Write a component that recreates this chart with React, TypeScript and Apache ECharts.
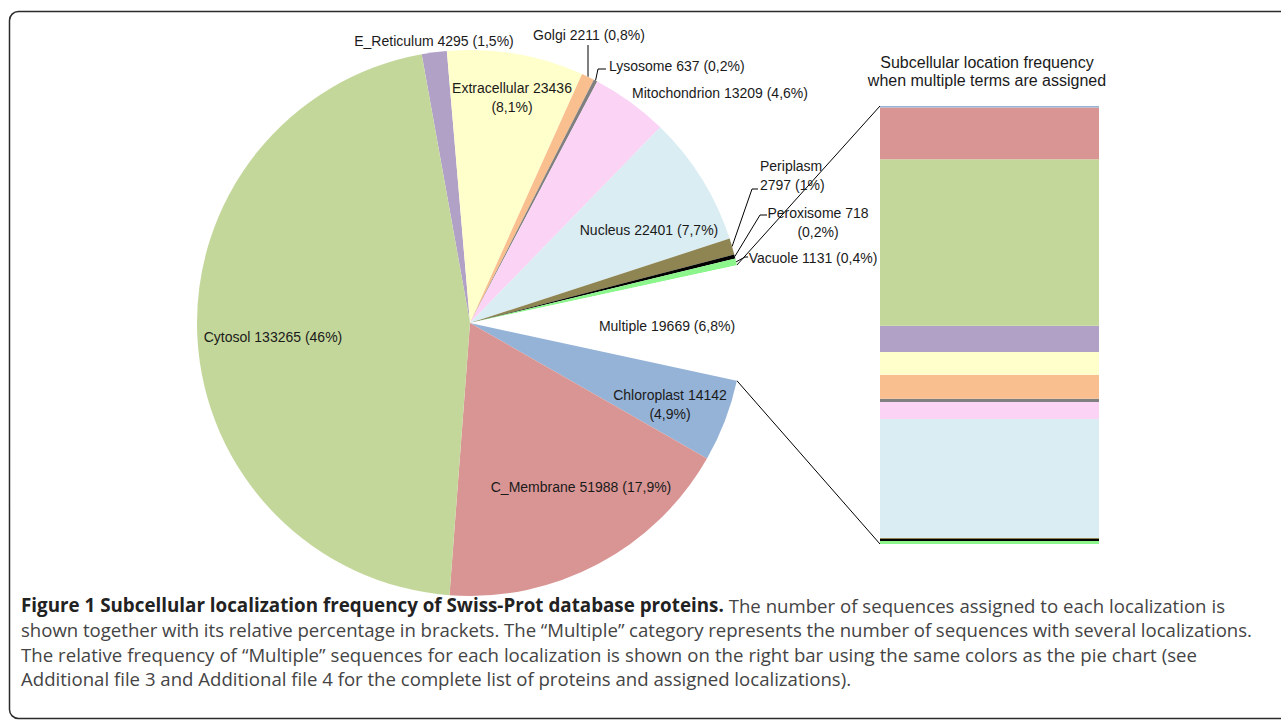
import React, { useEffect, useRef } from "react";
import * as echarts from "echarts";

// ---------- data ----------
const PIE_NAMES = [
  "E_Reticulum", "Extracellular", "Golgi", "Lysosome", "Mitochondrion", "Nucleus",
  "Periplasm", "Peroxisome", "Vacuole", "Multiple", "Chloroplast", "C_Membrane", "Cytosol",
];
const PIE_VALUES = [4295, 23436, 2211, 637, 13209, 22401, 2797, 718, 1131, 19669, 14142, 51988, 133265];

// relative frequency (%) of "Multiple" per localization, bottom to top of the bar
const BAR_NAMES = [
  "Vacuole", "Peroxisome", "Periplasm", "Nucleus", "Mitochondrion", "Lysosome", "Golgi",
  "Extracellular", "E_Reticulum", "Cytosol", "C_Membrane", "Chloroplast",
];
const BAR_VALUES = [0.7, 0.45, 0.25, 27.2, 3.9, 0.7, 5.5, 5.25, 5.95, 38.1, 11.85, 0.35];

const BAR_TITLE = ["Subcellular location frequency", "when multiple terms are assigned"];
const CAPTION_BOLD = "Figure 1 Subcellular localization frequency of Swiss-Prot database proteins.";
const CAPTION_LINES = [
  "The number of sequences assigned to each localization is",
  "shown together with its relative percentage in brackets. The \u201cMultiple\u201d category represents the number of sequences with several localizations.",
  "The relative frequency of \u201cMultiple\u201d sequences for each localization is shown on the right bar using the same colors as the pie chart (see",
  "Additional file 3 and Additional file 4 for the complete list of proteins and assigned localizations).",
];

// ---------- styles / layout ----------
const COLORS: Record<string, string> = {
  E_Reticulum: "#b2a1c7",
  Extracellular: "#ffffcc",
  Golgi: "#f9bf8f",
  Lysosome: "#808080",
  Mitochondrion: "#fad3f5",
  Nucleus: "#daedf2",
  Periplasm: "#8e8552",
  Peroxisome: "#000000",
  Vacuole: "#8cf58c",
  Multiple: "#ffffff",
  Chloroplast: "#95b3d7",
  C_Membrane: "#d99594",
  Cytosol: "#c4d79b",
};

const CX = 470;
const CY = 323;
const R = 273;
const START_ANGLE = 100.2;

const GRID_LEFT = 880;
const GRID_TOP = 106;
const GRID_W = 219;
const GRID_H = 438;

const LABEL_FONT = "'Liberation Sans', Arial, Helvetica, sans-serif";
const CAPTION_FONT = "'Open Sans', 'Noto Sans', sans-serif";
const CAPTION_X = 21;
const CAP_SIZE_N = 18.6;
const CAP_SIZE_B = 18.8;
// right end of each caption line (null = natural width)
const CAPTION_LINE_ENDS: (number | null)[] = [1225, 1252, 1197, null];

type LabelPos = {
  x: number;
  y: number;
  align?: "left" | "center" | "right";
  br?: "pct" | "name";
  guide?: number[][];
};
const LABEL_POS: Record<string, LabelPos> = {
  E_Reticulum: { x: 434, y: 41 },
  Extracellular: { x: 512, y: 97, br: "pct" },
  Golgi: { x: 589, y: 35, guide: [[588, 50], [588, 45]] },
  Lysosome: { x: 609, y: 66, align: "left", guide: [[598, 69], [606, 69]] },
  Mitochondrion: { x: 720, y: 93 },
  Nucleus: { x: 649, y: 230 },
  Periplasm: { x: 760, y: 175, align: "left", br: "name", guide: [[752, 189], [758, 189]] },
  Peroxisome: { x: 818, y: 222, br: "pct", guide: [[760, 215], [767, 215]] },
  Vacuole: { x: 813, y: 258, guide: [[745, 257], [748, 257]] },
  Multiple: { x: 667, y: 326 },
  Chloroplast: { x: 670, y: 404, br: "pct" },
  C_Membrane: { x: 581, y: 487 },
  Cytosol: { x: 273, y: 337 },
};

const sum = (a: number[]) => a.reduce((s, v) => s + v, 0);

function pctText(v: number, total: number) {
  let s = ((v / total) * 100).toFixed(1);
  if (s.endsWith(".0")) s = s.slice(0, -2);
  return s.replace(".", ",");
}

function edgePoint(angleDeg: number) {
  const a = (angleDeg * Math.PI) / 180;
  return [CX + R * Math.cos(a), CY - R * Math.sin(a)];
}

function buildCaption() {
  const canvas = document.createElement("canvas");
  const ctx = canvas.getContext("2d")!;
  const fontN = `${CAP_SIZE_N}px ${CAPTION_FONT}`;
  const fontB = `bold ${CAP_SIZE_B}px ${CAPTION_FONT}`;
  const measure = (t: string, bold: boolean) => {
    ctx.font = bold ? fontB : fontN;
    return ctx.measureText(t).width;
  };
  const lines: { t: string; b: boolean }[][] = CAPTION_LINES.map((l, i) => {
    const words = l.split(" ").map((t) => ({ t, b: false }));
    if (i === 0) return [...CAPTION_BOLD.split(" ").map((t) => ({ t, b: true })), ...words];
    return words;
  });
  const rich: Record<string, any> = {
    b: { fontFamily: CAPTION_FONT, fontSize: CAP_SIZE_B, fontWeight: "bold", fill: "#222222", lineHeight: 24.6 },
    n: { fontFamily: CAPTION_FONT, fontSize: CAP_SIZE_N, fill: "#444444", lineHeight: 24.6 },
  };
  const textLines = lines.map((words, i) => {
    const target = CAPTION_LINE_ENDS[i];
    const spaceW = measure(" ", false);
    let gap = spaceW;
    if (target != null && words.length > 1) {
      const w = sum(words.map((wd) => measure(wd.t, wd.b)));
      gap = (target - CAPTION_X - w) / (words.length - 1);
    }
    const key = `g${i}`;
    rich[key] = { fontFamily: CAPTION_FONT, fontSize: CAP_SIZE_N, width: gap, lineHeight: 24.6 };
    return words.map((wd) => `{${wd.b ? "b" : "n"}|${wd.t}}`).join(`{${key}| }`);
  });
  return { text: textLines.join("\n"), rich };
}

function buildOption() {
  const total = sum(PIE_VALUES);
  const cum: number[] = [];
  PIE_VALUES.reduce((s, v) => {
    cum.push(s);
    return s + v;
  }, 0);
  const midAngle = (i: number) => START_ANGLE - (360 * (cum[i] + PIE_VALUES[i] / 2)) / total;

  const iMul = PIE_NAMES.indexOf("Multiple");
  const zoomTop = edgePoint(START_ANGLE - (360 * cum[iMul]) / total);
  const zoomBot = edgePoint(START_ANGLE - (360 * (cum[iMul] + PIE_VALUES[iMul])) / total);

  const pieData = PIE_NAMES.map((name, i) => {
    const pos = LABEL_POS[name];
    return {
      name,
      value: PIE_VALUES[i],
      itemStyle: { color: COLORS[name] },
      label: { position: pos.guide ? "outside" : "inside" },
      labelLine: { show: !!pos.guide },
    };
  });

  const barTotal = sum(BAR_VALUES);
  const caption = buildCaption();

  return {
    animation: false,
    backgroundColor: "#ffffff",
    grid: {
      left: GRID_LEFT,
      top: GRID_TOP,
      width: GRID_W,
      height: GRID_H,
      outerBoundsMode: "none",
    },
    xAxis: { type: "category", data: ["Multiple"], show: false },
    yAxis: { type: "value", min: 0, max: barTotal, show: false },
    series: [
      {
        type: "pie",
        center: [CX, CY],
        radius: [0, R],
        startAngle: START_ANGLE,
        clockwise: true,
        avoidLabelOverlap: false,
        silent: true,
        data: pieData,
        itemStyle: { borderWidth: 0 },
        label: {
          show: true,
          color: "#1a1a1a",
          fontFamily: LABEL_FONT,
          fontSize: 14,
          lineHeight: 19,
          formatter: (p: any) => {
            const pos = LABEL_POS[p.name];
            const pct = `(${pctText(p.value, total)}%)`;
            if (pos.br === "name") return `${p.name}\n${p.value} ${pct}`;
            if (pos.br === "pct") return `${p.name} ${p.value}\n${pct}`;
            return `${p.name} ${p.value} ${pct}`;
          },
        },
        labelLine: {
          show: false,
          lineStyle: { color: "#000000", width: 1 },
        },
        labelLayout: (params: any) => {
          const name = PIE_NAMES[params.dataIndex];
          const pos = LABEL_POS[name];
          const out: any = {
            x: pos.x,
            y: pos.y,
            align: pos.align || "center",
            verticalAlign: "middle",
          };
          if (pos.guide) {
            const start = edgePoint(midAngle(params.dataIndex));
            out.labelLinePoints = [start, ...pos.guide];
          }
          return out;
        },
      },
      ...BAR_NAMES.map((name, i) => ({
        type: "bar",
        name,
        stack: "multiple",
        barWidth: "100%",
        silent: true,
        data: [BAR_VALUES[i]],
        itemStyle: { color: COLORS[name] },
      })),
    ],
    graphic: [
      {
        type: "rect",
        shape: { x: 9.5, y: 11.5, width: 1300, height: 707, r: 9 },
        style: { fill: "none", stroke: "#2b2b2b", lineWidth: 1.5 },
        silent: true,
      },
      {
        type: "line",
        shape: { x1: zoomTop[0], y1: zoomTop[1], x2: GRID_LEFT, y2: GRID_TOP },
        style: { stroke: "#000000", lineWidth: 1 },
        silent: true,
      },
      {
        type: "line",
        shape: { x1: zoomBot[0], y1: zoomBot[1], x2: GRID_LEFT, y2: GRID_TOP + GRID_H },
        style: { stroke: "#000000", lineWidth: 1 },
        silent: true,
      },
      {
        type: "text",
        x: 987,
        y: 71,
        style: {
          text: BAR_TITLE.join("\n"),
          fontFamily: LABEL_FONT,
          fontSize: 16,
          lineHeight: 18,
          fill: "#1a1a1a",
          align: "center",
          verticalAlign: "middle",
        },
        silent: true,
      },
      {
        type: "text",
        x: CAPTION_X,
        y: 642,
        style: {
          text: caption.text,
          rich: caption.rich,
          fontFamily: CAPTION_FONT,
          fontSize: CAP_SIZE_N,
          lineHeight: 24.6,
          fill: "#444444",
          align: "left",
          verticalAlign: "middle",
        },
        silent: true,
      },
    ],
  };
}

export default function App() {
  const ref = useRef<HTMLDivElement>(null);
  useEffect(() => {
    if (!ref.current) return;
    const chart = echarts.init(ref.current, null, { renderer: "svg" });
    chart.setOption(buildOption() as any);
    return () => chart.dispose();
  }, []);
  return (
    <div
      ref={ref}
      style={{ position: "fixed", left: 0, top: 0, width: 1281, height: 720, background: "#fff" }}
    />
  );
}
